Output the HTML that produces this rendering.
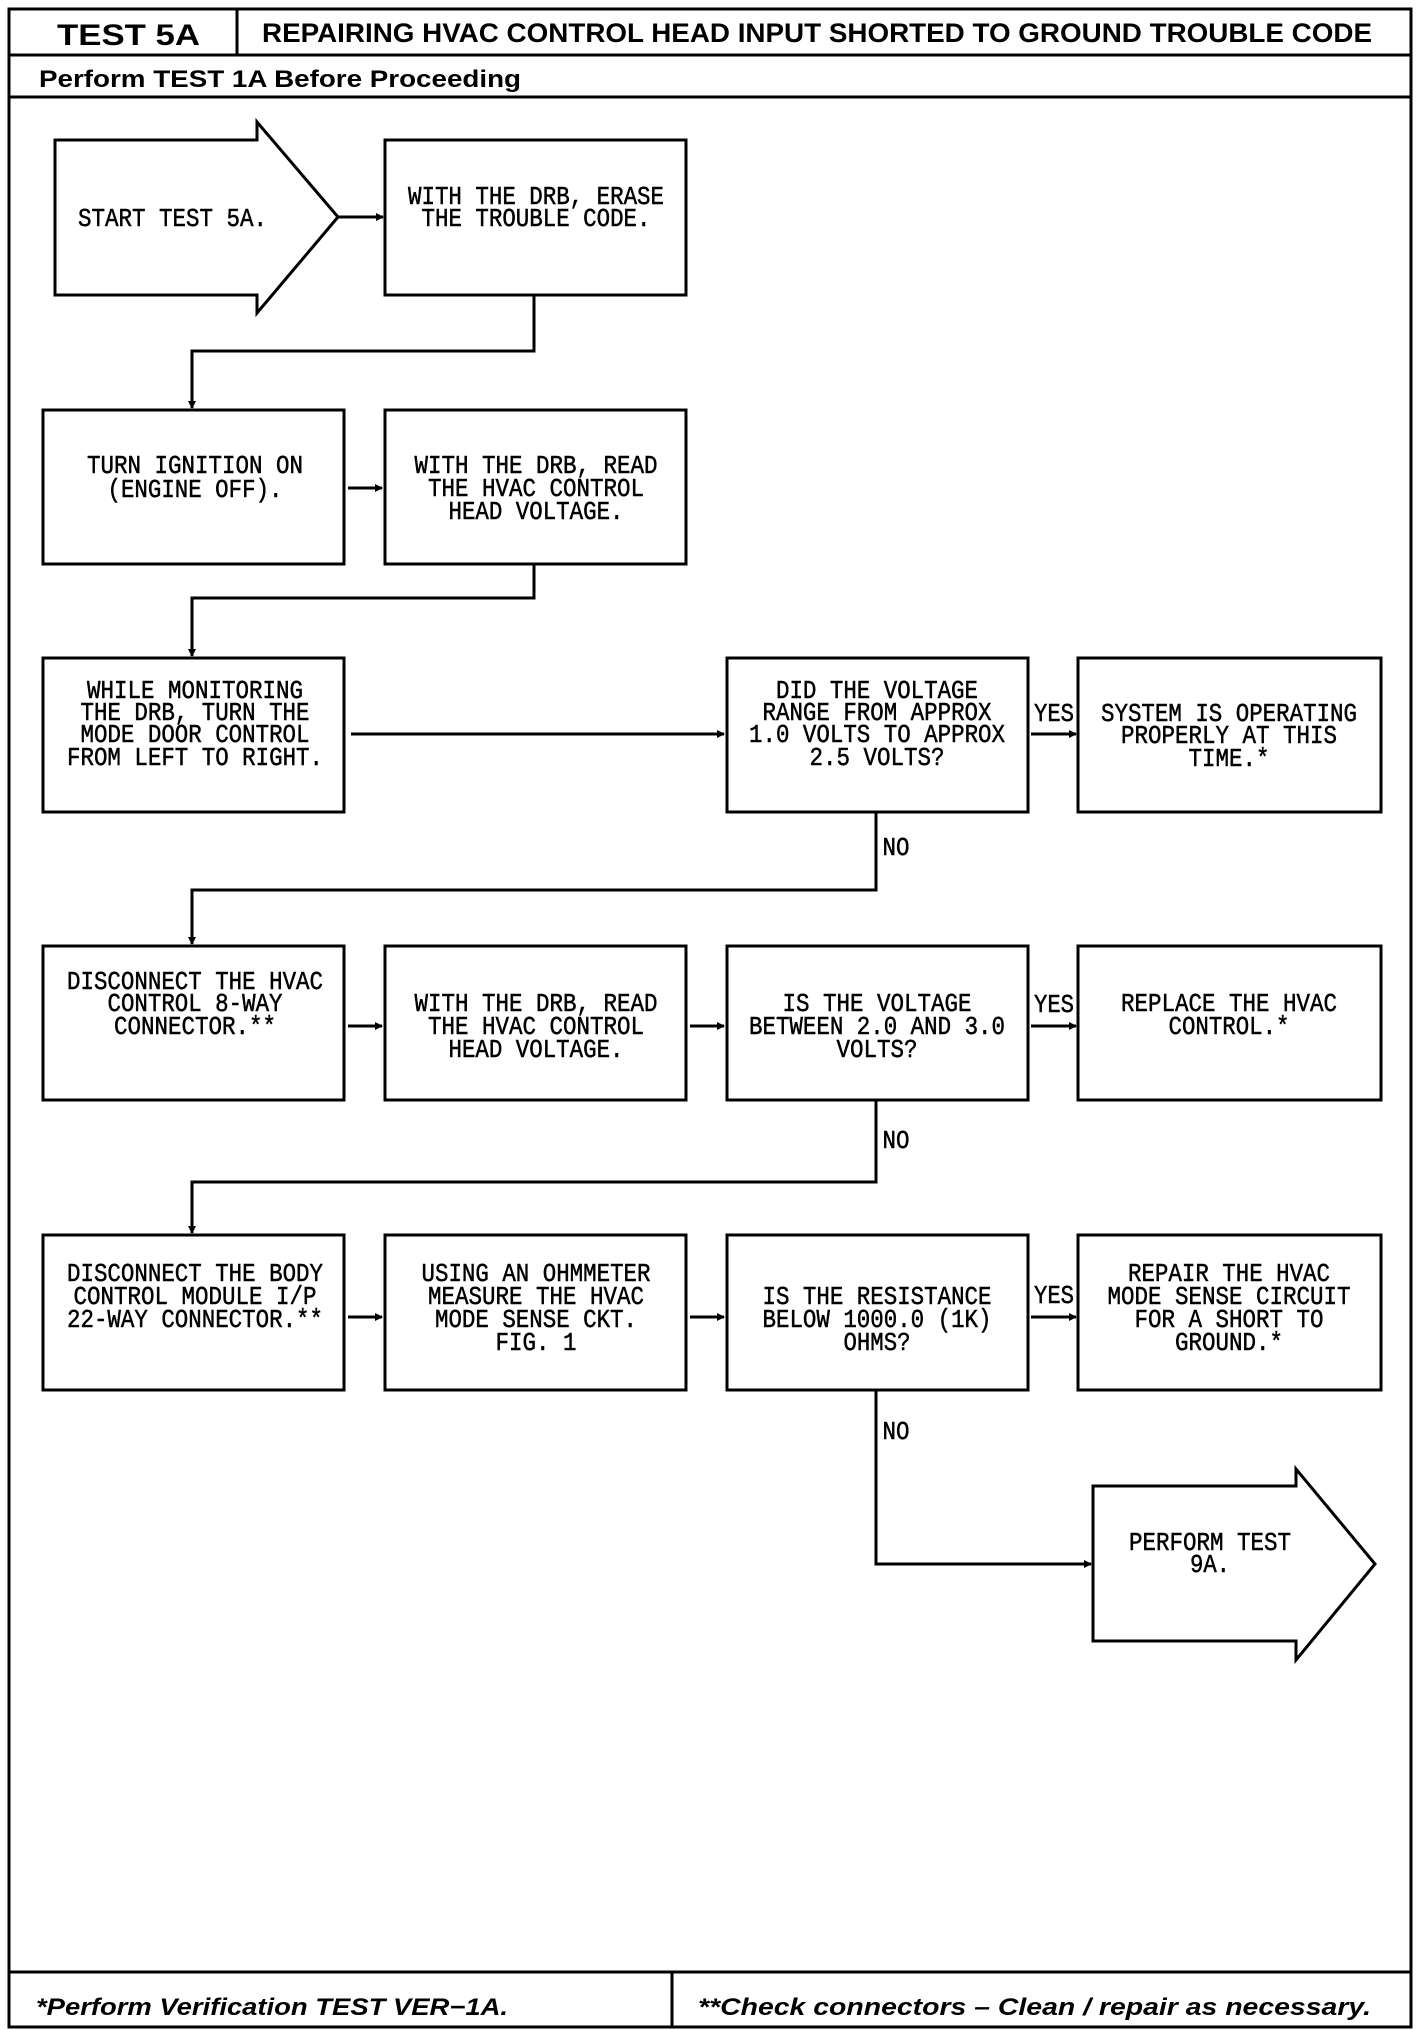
<!DOCTYPE html>
<html><head><meta charset="utf-8"><style>
html,body{margin:0;padding:0;background:#fff;}
svg{display:block}
.t{font-family:"Liberation Mono",monospace;font-size:26px;fill:#000;stroke:#000;stroke-width:0.5;text-anchor:middle}
.h{font-family:"Liberation Sans",sans-serif;font-weight:bold;fill:#000}
</style></head><body>
<svg width="1424" height="2030" viewBox="0 0 1424 2030" xmlns="http://www.w3.org/2000/svg">
<defs><marker id="a" markerWidth="8" markerHeight="8" refX="7" refY="4" orient="auto" markerUnits="userSpaceOnUse"><path d="M0,0 L8,4 L0,8 z" fill="#000"/></marker></defs>
<g fill="none" stroke="#000" stroke-width="3">
<rect x="9" y="9" width="1402" height="2018"/>
<line x1="9" y1="55" x2="1411" y2="55"/>
<line x1="237" y1="9" x2="237" y2="55"/>
<line x1="9" y1="97" x2="1411" y2="97"/>
<line x1="9" y1="1972" x2="1411" y2="1972"/>
<line x1="672" y1="1972" x2="672" y2="2027"/>
<polygon points="55,140 257,140 257,122 338,217 257,313 257,295 55,295"/>
<polygon points="1093,1486 1296,1486 1296,1469 1375,1564 1296,1660 1296,1641 1093,1641"/>
<rect x="385" y="140" width="301" height="155"/>
<rect x="43" y="410" width="301" height="154"/><rect x="385" y="410" width="301" height="154"/>
<rect x="43" y="658" width="301" height="154"/><rect x="727" y="658" width="301" height="154"/><rect x="1078" y="658" width="303" height="154"/>
<rect x="43" y="946" width="301" height="154"/><rect x="385" y="946" width="301" height="154"/><rect x="727" y="946" width="301" height="154"/><rect x="1078" y="946" width="303" height="154"/>
<rect x="43" y="1235" width="301" height="155"/><rect x="385" y="1235" width="301" height="155"/><rect x="727" y="1235" width="301" height="155"/><rect x="1078" y="1235" width="303" height="155"/>
</g>
<g fill="none" stroke="#000" stroke-width="3" marker-end="url(#a)">
<line x1="338" y1="217" x2="383" y2="217"/>
<polyline points="534,295 534,351 192,351 192,408"/>
<line x1="348" y1="488" x2="382" y2="488"/>
<polyline points="534,564 534,598 192,598 192,656"/>
<line x1="351" y1="734" x2="724" y2="734"/>
<line x1="1031" y1="734" x2="1076" y2="734"/>
<polyline points="876,812 876,890 192,890 192,944"/>
<line x1="348" y1="1026" x2="382" y2="1026"/>
<line x1="690" y1="1026" x2="724" y2="1026"/>
<line x1="1031" y1="1026" x2="1076" y2="1026"/>
<polyline points="876,1100 876,1182 192,1182 192,1233"/>
<line x1="348" y1="1317" x2="382" y2="1317"/>
<line x1="690" y1="1317" x2="724" y2="1317"/>
<line x1="1031" y1="1317" x2="1076" y2="1317"/>
<polyline points="876,1390 876,1564 1091,1564"/>
</g>
<text class="h" x="57" y="45" font-size="30" textLength="143" lengthAdjust="spacingAndGlyphs">TEST 5A</text>
<text class="h" x="262" y="42" font-size="27" textLength="1110" lengthAdjust="spacingAndGlyphs">REPAIRING HVAC CONTROL HEAD INPUT SHORTED TO GROUND TROUBLE CODE</text>
<text class="h" x="39" y="87" font-size="24" textLength="482" lengthAdjust="spacingAndGlyphs">Perform TEST 1A Before Proceeding</text>
<text class="h" x="36" y="2015" font-size="24" font-style="italic" textLength="472" lengthAdjust="spacingAndGlyphs">*Perform Verification TEST VER−1A.</text>
<text class="h" x="698" y="2015" font-size="24" font-style="italic" textLength="673" lengthAdjust="spacingAndGlyphs">**Check connectors – Clean / repair as necessary.</text>
<g class="t">
<text x="78" y="226" style="text-anchor:start" textLength="189" lengthAdjust="spacingAndGlyphs">START TEST 5A.</text>
<text x="536" y="204" textLength="256" lengthAdjust="spacingAndGlyphs">WITH THE DRB, ERASE</text>
<text x="536" y="226" textLength="229" lengthAdjust="spacingAndGlyphs">THE TROUBLE CODE.</text>
<text x="195" y="473" textLength="216" lengthAdjust="spacingAndGlyphs">TURN IGNITION ON</text>
<text x="195" y="497" textLength="175" lengthAdjust="spacingAndGlyphs">(ENGINE OFF).</text>
<text x="536" y="473" textLength="243" lengthAdjust="spacingAndGlyphs">WITH THE DRB, READ</text>
<text x="536" y="496" textLength="216" lengthAdjust="spacingAndGlyphs">THE HVAC CONTROL</text>
<text x="536" y="519" textLength="175" lengthAdjust="spacingAndGlyphs">HEAD VOLTAGE.</text>
<text x="195" y="698" textLength="216" lengthAdjust="spacingAndGlyphs">WHILE MONITORING</text>
<text x="195" y="720" textLength="229" lengthAdjust="spacingAndGlyphs">THE DRB, TURN THE</text>
<text x="195" y="742" textLength="229" lengthAdjust="spacingAndGlyphs">MODE DOOR CONTROL</text>
<text x="195" y="765" textLength="256" lengthAdjust="spacingAndGlyphs">FROM LEFT TO RIGHT.</text>
<text x="877" y="698" textLength="202" lengthAdjust="spacingAndGlyphs">DID THE VOLTAGE</text>
<text x="877" y="720" textLength="229" lengthAdjust="spacingAndGlyphs">RANGE FROM APPROX</text>
<text x="877" y="742" textLength="256" lengthAdjust="spacingAndGlyphs">1.0 VOLTS TO APPROX</text>
<text x="877" y="765" textLength="135" lengthAdjust="spacingAndGlyphs">2.5 VOLTS?</text>
<text x="1229" y="721" textLength="256" lengthAdjust="spacingAndGlyphs">SYSTEM IS OPERATING</text>
<text x="1229" y="743" textLength="216" lengthAdjust="spacingAndGlyphs">PROPERLY AT THIS</text>
<text x="1229" y="766" textLength="81" lengthAdjust="spacingAndGlyphs">TIME.*</text>
<text x="195" y="989" textLength="256" lengthAdjust="spacingAndGlyphs">DISCONNECT THE HVAC</text>
<text x="195" y="1011" textLength="175" lengthAdjust="spacingAndGlyphs">CONTROL 8-WAY</text>
<text x="195" y="1034" textLength="162" lengthAdjust="spacingAndGlyphs">CONNECTOR.**</text>
<text x="536" y="1011" textLength="243" lengthAdjust="spacingAndGlyphs">WITH THE DRB, READ</text>
<text x="536" y="1034" textLength="216" lengthAdjust="spacingAndGlyphs">THE HVAC CONTROL</text>
<text x="536" y="1057" textLength="175" lengthAdjust="spacingAndGlyphs">HEAD VOLTAGE.</text>
<text x="877" y="1011" textLength="189" lengthAdjust="spacingAndGlyphs">IS THE VOLTAGE</text>
<text x="877" y="1034" textLength="256" lengthAdjust="spacingAndGlyphs">BETWEEN 2.0 AND 3.0</text>
<text x="877" y="1057" textLength="81" lengthAdjust="spacingAndGlyphs">VOLTS?</text>
<text x="1229" y="1011" textLength="216" lengthAdjust="spacingAndGlyphs">REPLACE THE HVAC</text>
<text x="1229" y="1034" textLength="121" lengthAdjust="spacingAndGlyphs">CONTROL.*</text>
<text x="195" y="1281" textLength="256" lengthAdjust="spacingAndGlyphs">DISCONNECT THE BODY</text>
<text x="195" y="1304" textLength="243" lengthAdjust="spacingAndGlyphs">CONTROL MODULE I/P</text>
<text x="195" y="1327" textLength="256" lengthAdjust="spacingAndGlyphs">22-WAY CONNECTOR.**</text>
<text x="536" y="1281" textLength="229" lengthAdjust="spacingAndGlyphs">USING AN OHMMETER</text>
<text x="536" y="1304" textLength="216" lengthAdjust="spacingAndGlyphs">MEASURE THE HVAC</text>
<text x="536" y="1327" textLength="202" lengthAdjust="spacingAndGlyphs">MODE SENSE CKT.</text>
<text x="536" y="1350" textLength="81" lengthAdjust="spacingAndGlyphs">FIG. 1</text>
<text x="877" y="1304" textLength="229" lengthAdjust="spacingAndGlyphs">IS THE RESISTANCE</text>
<text x="877" y="1327" textLength="229" lengthAdjust="spacingAndGlyphs">BELOW 1000.0 (1K)</text>
<text x="877" y="1350" textLength="67" lengthAdjust="spacingAndGlyphs">OHMS?</text>
<text x="1229" y="1281" textLength="202" lengthAdjust="spacingAndGlyphs">REPAIR THE HVAC</text>
<text x="1229" y="1304" textLength="243" lengthAdjust="spacingAndGlyphs">MODE SENSE CIRCUIT</text>
<text x="1229" y="1327" textLength="189" lengthAdjust="spacingAndGlyphs">FOR A SHORT TO</text>
<text x="1229" y="1350" textLength="108" lengthAdjust="spacingAndGlyphs">GROUND.*</text>
<text x="1210" y="1550" textLength="162" lengthAdjust="spacingAndGlyphs">PERFORM TEST</text>
<text x="1210" y="1572" textLength="40" lengthAdjust="spacingAndGlyphs">9A.</text>
<text x="1054" y="721" textLength="40" lengthAdjust="spacingAndGlyphs">YES</text>
<text x="1054" y="1012" textLength="40" lengthAdjust="spacingAndGlyphs">YES</text>
<text x="1054" y="1303" textLength="40" lengthAdjust="spacingAndGlyphs">YES</text>
<text x="896" y="855" textLength="27" lengthAdjust="spacingAndGlyphs">NO</text>
<text x="896" y="1148" textLength="27" lengthAdjust="spacingAndGlyphs">NO</text>
<text x="896" y="1439" textLength="27" lengthAdjust="spacingAndGlyphs">NO</text>
</g>
</svg>
</body></html>
